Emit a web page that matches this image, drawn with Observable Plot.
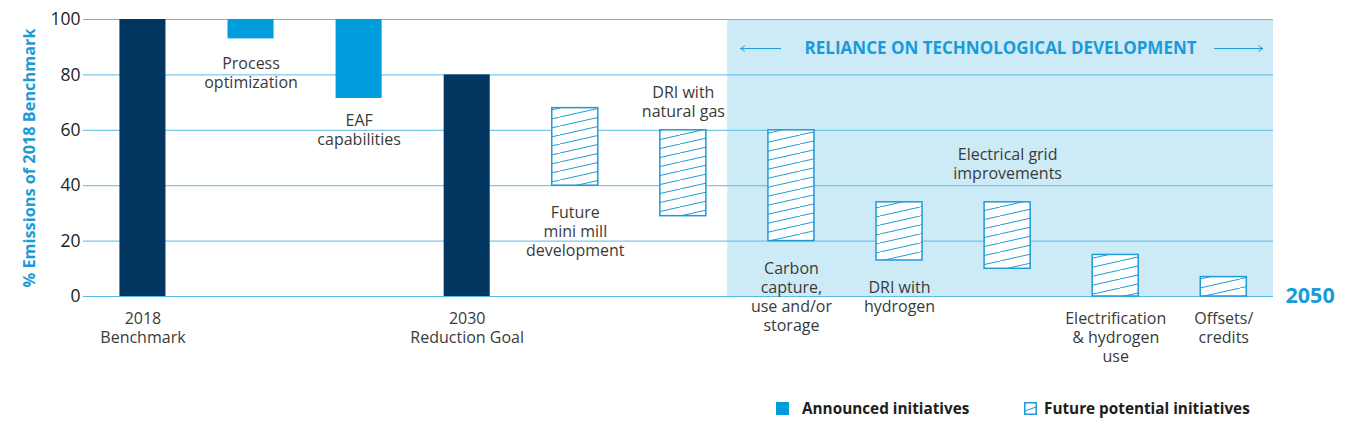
<!DOCTYPE html>
<html><head><meta charset="utf-8">
<script src="https://cdn.jsdelivr.net/npm/d3@7"></script>
<script src="https://cdn.jsdelivr.net/npm/@observablehq/plot@0.6"></script>
<style>
body{margin:0;background:#fff;font-family:"Open Sans",sans-serif;}
#chart svg{display:block;}
#legend{position:relative;height:55px;width:1351px;}
.item{position:absolute;top:18px;height:20px;display:flex;align-items:center;font-weight:700;font-size:15.3px;color:#1d1d1b;white-space:nowrap;}
.sw{width:13px;height:13px;margin-right:13px;box-sizing:border-box;}
</style></head><body><div id="chart"></div><div id="legend"></div>
<script>
// ---- data ----
const categories = ["2018 Benchmark","Process optimization","EAF capabilities","2030 Reduction Goal","Future mini mill development","DRI with natural gas","Carbon capture, use and/or storage","DRI with hydrogen","Electrical grid improvements","Electrification & hydrogen use","Offsets/credits"];
const labelLines = ["2018\nBenchmark","Process\noptimization","EAF\ncapabilities","2030\nReduction Goal","Future\nmini mill\ndevelopment","DRI with\nnatural gas","Carbon\ncapture,\nuse and/or\nstorage","DRI with\nhydrogen","Electrical grid\nimprovements","Electrification\n& hydrogen\nuse","Offsets/\ncredits"];
const barStart = [0, 93, 71.5, 0, 40, 29, 20, 13, 10, 0, 0];
const barEnd   = [100, 100, 100, 80, 68, 60, 60, 34, 34, 15, 7];
const barType  = ["goal","announced","announced","goal","future","future","future","future","future","future","future"];
const labelSide = ["axis","below","below","axis","below","above","below","below","above","axis","axis"];
const yTicks = [0, 20, 40, 60, 80, 100];
const regionFrom = "Carbon capture, use and/or storage";
const regionTo = "Offsets/credits";
const regionTitle = "RELIANCE ON TECHNOLOGICAL DEVELOPMENT";
const endLabel = "2050";
const yTitle = "% Emissions of 2018 Benchmark";
const legendItems = ["Announced initiatives", "Future potential initiatives"];

// ---- styles ----
const NAVY = "#003660", BLUE = "#009ddc", LINE = "#1f9ad7", TXT = "#3a3a3a", ACC = "#1a9bd7", REGION = "#cdeaf7", GRID = "#5bbbe7";
const half = 0.213;
const FS = 16;
const labelDy = {"Process optimization": 17, "EAF capabilities": 14, "Future mini mill development": 19, "DRI with natural gas": -13, "Carbon capture, use and/or storage": 19, "DRI with hydrogen": 19, "Electrical grid improvements": -23.5};

const data = categories.map((c, i) => ({i, c, label: labelLines[i], y1: barStart[i], y2: barEnd[i], type: barType[i], side: labelSide[i]}));
const region = {x1: categories.indexOf(regionFrom) - 0.59, x2: categories.indexOf(regionTo) + 0.46};
const regionMid = (region.x1 + region.x2) / 2;
const annY = 89.5;

const labelMarks = data.map(d => {
  const base = {x: "i", text: "label", fill: TXT, fontSize: FS, lineHeight: 1.19, textAnchor: "middle"};
  if (d.side === "axis") return Plot.text([d], {...base, y: () => 0, lineAnchor: "top", dy: 14});
  if (d.side === "below") return Plot.text([d], {...base, y: "y1", lineAnchor: "top", dy: labelDy[d.c]});
  return Plot.text([d], {...base, y: "y2", lineAnchor: "bottom", dy: labelDy[d.c]});
});

const svg = Plot.plot({
  width: 1351, height: 380,
  marginLeft: 83, marginRight: 78, marginTop: 19, marginBottom: 84,
  style: {fontFamily: "'Open Sans', sans-serif", background: "transparent"},
  x: {type: "linear", domain: [-0.55, categories.length - 1 + 0.46], axis: null},
  y: {domain: [0, 100], axis: null},
  marks: [
    Plot.rect([region], {x1: "x1", x2: "x2", y1: () => 0, y2: () => 100, fill: REGION}),
    Plot.ruleY(yTicks, {stroke: GRID, strokeWidth: 1}),
    Plot.rect(data.filter(d => d.type === "goal"), {x1: d => d.i - half, x2: d => d.i + half, y1: "y1", y2: "y2", fill: NAVY}),
    Plot.rect(data.filter(d => d.type === "announced"), {x1: d => d.i - half, x2: d => d.i + half, y1: "y1", y2: "y2", fill: BLUE}),
    Plot.rect(data.filter(d => d.type === "future"), {x1: d => d.i - half, x2: d => d.i + half, y1: "y1", y2: "y2", fill: "url(#hatch)", stroke: LINE, strokeWidth: 1.5}),
    Plot.axisY({ticks: yTicks, tickSize: 0, tickPadding: 3, fontSize: 17.5, color: "#222", label: null}),
    Plot.text([yTitle], {frameAnchor: "left", textAnchor: "middle", rotate: -90, dx: -54, fontSize: 16.3, fontWeight: 700, fill: ACC}),
    ...labelMarks,
    Plot.text([regionTitle], {x: () => regionMid, y: () => annY, fontSize: 17, fontWeight: 700, fill: ACC}),
    Plot.arrow([
      {x1: region.x1 + 0.49, x2: region.x1 + 0.12},
      {x1: region.x2 - 0.545, x2: region.x2 - 0.10}
    ], {x1: "x1", x2: "x2", y1: () => annY, y2: () => annY, stroke: ACC, strokeWidth: 1, headLength: 7, headAngle: 70}),
    Plot.text([endLabel], {x: () => region.x2, y: () => 0, dx: 12, textAnchor: "start", fontSize: 21.5, fontWeight: 700, fill: ACC})
  ]
});

const defs = d3.select(svg).insert("defs", ":first-child");
const pat = defs.append("pattern").attr("id", "hatch").attr("patternUnits", "userSpaceOnUse").attr("width", 40).attr("height", 9);
pat.append("rect").attr("width", 40).attr("height", 9).attr("fill", "#fff");
pat.append("path").attr("d", "M0,9L40,0M-40,9L0,0M40,9L80,0").attr("stroke", LINE).attr("stroke-width", 1).attr("fill", "none");
document.getElementById("chart").appendChild(svg);

// legend
const lg = document.getElementById("legend");
const lx = [776, 1024];
legendItems.forEach((t, k) => {
  const it = document.createElement("div");
  it.className = "item";
  it.style.left = lx[k] + "px";
  const sw = k === 0
    ? `<div class="sw" style="background:${BLUE}"></div>`
    : `<svg width="13" height="13" style="margin-right:7px"><rect x="0.75" y="0.75" width="11.5" height="11.5" fill="#fff" stroke="${LINE}" stroke-width="1.5"/><path d="M1,9L12,5" stroke="${LINE}" stroke-width="1"/></svg>`;
  it.innerHTML = sw + `<span>${t}</span>`;
  lg.appendChild(it);
});
</script></body></html>
